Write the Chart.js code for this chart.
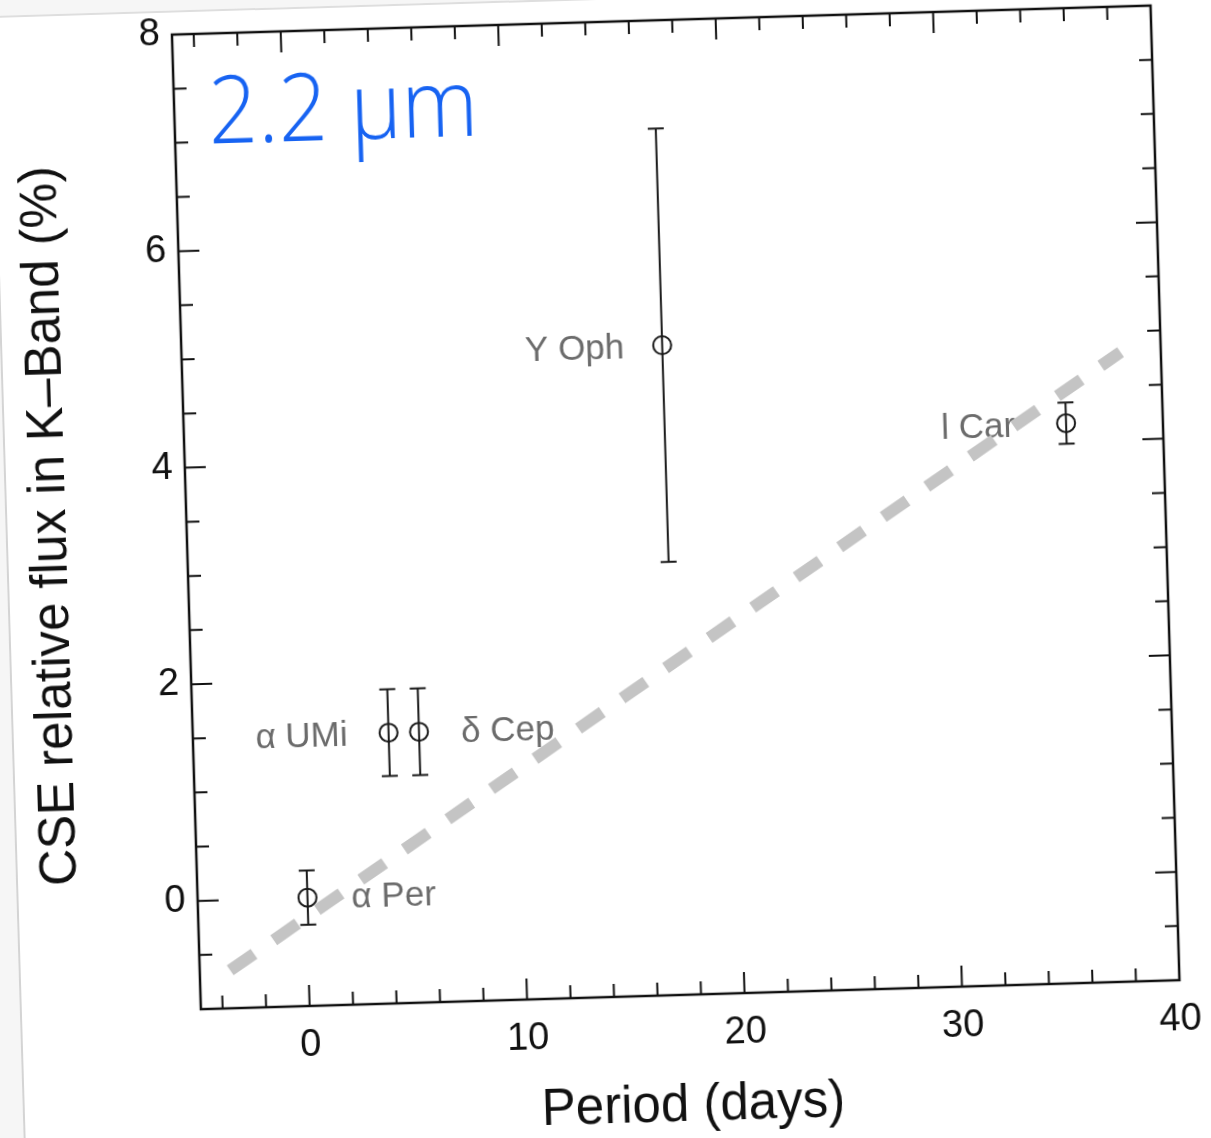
<!DOCTYPE html>
<html>
<head>
<meta charset="utf-8">
<script src="https://cdn.jsdelivr.net/npm/chart.js@4.4.1/dist/chart.umd.min.js"></script>
<style>
    html, body { margin: 0; padding: 0; background: #f6f6f6; overflow: hidden; }
    #wrap { position: relative; width: 1211px; height: 1138px; transform: rotate(-1.7deg); transform-origin: 605.5px 569px; }
    #page { position: absolute; left: 7px; top: -2px; width: 1400px; height: 1400px; background: #fff;
            border-left: 2px solid #d4d4d4; border-top: 2px solid #dedede; }
    #fluxChart { position: absolute; left: 0; top: 0; }
</style>
</head>
<body>
<div id="wrap"><div id="page"></div><canvas id="fluxChart" width="1211" height="1138"></canvas></div>
<script>
// values
const starNames = ['α Per', 'α UMi', 'δ Cep', 'Y Oph', 'l Car'];
const periods = [0.05, 4.0, 5.4, 17.1, 35.55];
const cseFlux = [0.0, 1.5, 1.5, 5.0, 4.17];
const fluxErrors = [0.25, 0.4, 0.4, 2.0, 0.19];
const trendX = [-3.6, 38.15];
const trendY = [-0.65, 4.81];
const xTickLabels = [0, 10, 20, 30, 40];
const yTickLabels = [0, 2, 4, 6, 8];

// which side of the marker each name goes
const labelSide = ['right', 'left', 'right', 'left', 'left'];
const labelGap = [44, 41, 42, 38, 51];

const tickFont = { family: '"Liberation Sans", Arial, sans-serif', size: 38, lineHeight: 0.5 };
const titleFont = { family: '"Liberation Sans", Arial, sans-serif', size: 51, lineHeight: 1 };

const frameAndTicks = {
    id: 'frameAndTicks',
    afterDraw(chart) {
        const { ctx, chartArea: a, scales: { x, y } } = chart;
        ctx.save();
        ctx.strokeStyle = '#111';
        ctx.lineWidth = 2.5;
        ctx.strokeRect(a.left, a.top, a.right - a.left, a.bottom - a.top);
        ctx.lineWidth = 2;
        ctx.beginPath();
        for (let v = -4; v < 40; v += 2) {
            const px = x.getPixelForValue(v);
            const len = v % 10 === 0 ? 21 : 13;
            ctx.moveTo(px, a.bottom); ctx.lineTo(px, a.bottom - len);
            ctx.moveTo(px, a.top); ctx.lineTo(px, a.top + len);
        }
        for (let v = -0.5; v < 8; v += 0.5) {
            const py = y.getPixelForValue(v);
            const len = v % 2 === 0 ? 21 : 13;
            ctx.moveTo(a.left, py); ctx.lineTo(a.left + len, py);
            ctx.moveTo(a.right, py); ctx.lineTo(a.right - len, py);
        }
        ctx.stroke();

        // wavelength tag
        ctx.save();
        ctx.translate(a.left + 34, a.top + 110);
        ctx.scale(0.92, 1);
        ctx.fillStyle = '#1763f2';
        ctx.font = '300 94px "Open Sans", Lato, sans-serif';
        ctx.textBaseline = 'alphabetic';
        ctx.fillText('2.2 μm', 0, 0);
        ctx.restore();
        ctx.restore();
    }
};

const errorBarsAndNames = {
    id: 'errorBarsAndNames',
    beforeDatasetsDraw(chart) {
        const { ctx, scales: { x, y } } = chart;
        ctx.save();
        ctx.strokeStyle = '#1a1a1a';
        ctx.lineWidth = 2;
        ctx.beginPath();
        periods.forEach(function (p, i) {
            const px = x.getPixelForValue(p);
            const top = y.getPixelForValue(cseFlux[i] + fluxErrors[i]);
            const bot = y.getPixelForValue(cseFlux[i] - fluxErrors[i]);
            ctx.moveTo(px, top); ctx.lineTo(px, bot);
            ctx.moveTo(px - 8, top); ctx.lineTo(px + 8, top);
            ctx.moveTo(px - 8, bot); ctx.lineTo(px + 8, bot);
        });
        ctx.stroke();

        ctx.fillStyle = '#6b6b6b';
        ctx.font = '35px "Liberation Sans", Arial, sans-serif';
        ctx.textBaseline = 'middle';
        starNames.forEach(function (name, i) {
            const px = x.getPixelForValue(periods[i]);
            const py = y.getPixelForValue(cseFlux[i]) + 2;
            if (labelSide[i] === 'left') {
                ctx.textAlign = 'right';
                ctx.fillText(name, px - labelGap[i], py);
            } else {
                ctx.textAlign = 'left';
                ctx.fillText(name, px + labelGap[i], py);
            }
        });
        ctx.restore();
    }
};

const ctx = document.getElementById('fluxChart').getContext('2d');
const fluxChart = new Chart(ctx, {
    type: 'scatter',
    data: {
        datasets: [
            {
                label: 'CSE flux',
                data: periods.map(function (p, i) { return { x: p, y: cseFlux[i] }; }),
                pointRadius: 9,
                pointBorderWidth: 2,
                borderColor: '#1a1a1a',
                backgroundColor: 'rgba(0,0,0,0)',
                order: 1
            },
            {
                label: 'trend',
                data: trendX.map(function (v, i) { return { x: v, y: trendY[i] }; }),
                showLine: true,
                borderColor: '#c4c4c4',
                borderWidth: 12,
                borderDash: [29, 24],
                borderCapStyle: 'butt',
                pointRadius: 0,
                order: 0
            }
        ]
    },
    options: {
        responsive: false,
        animation: false,
        layout: { padding: { left: 0, top: 22, right: 44, bottom: 0 } },
        plugins: {
            legend: { display: false },
            tooltip: { enabled: false }
        },
        scales: {
            x: {
                type: 'linear',
                min: -5,
                max: 40,
                afterBuildTicks: function (s) { s.ticks = xTickLabels.map(function (v) { return { value: v }; }); },
                afterFit: function (s) { s.height = 141; },
                grid: { display: false, drawTicks: false },
                border: { display: false },
                ticks: { color: '#111', font: { family: tickFont.family, size: 38 }, padding: 17 },
                title: { display: true, text: 'Period (days)', color: '#111', font: titleFont, padding: { top: 0, bottom: 4 } }
            },
            y: {
                type: 'linear',
                min: -1,
                max: 8,
                afterBuildTicks: function (s) { s.ticks = yTickLabels.map(function (v) { return { value: v }; }); },
                afterFit: function (s) { s.width = 188; },
                grid: { display: false, drawTicks: false },
                border: { display: false },
                ticks: { color: '#111', font: tickFont, padding: 12 },
                title: { display: true, text: 'CSE relative flux in K–Band (%)', color: '#111', font: titleFont, padding: { top: 27, bottom: 0 } }
            }
        }
    },
    plugins: [frameAndTicks, errorBarsAndNames]
});
</script>
</body>
</html>
